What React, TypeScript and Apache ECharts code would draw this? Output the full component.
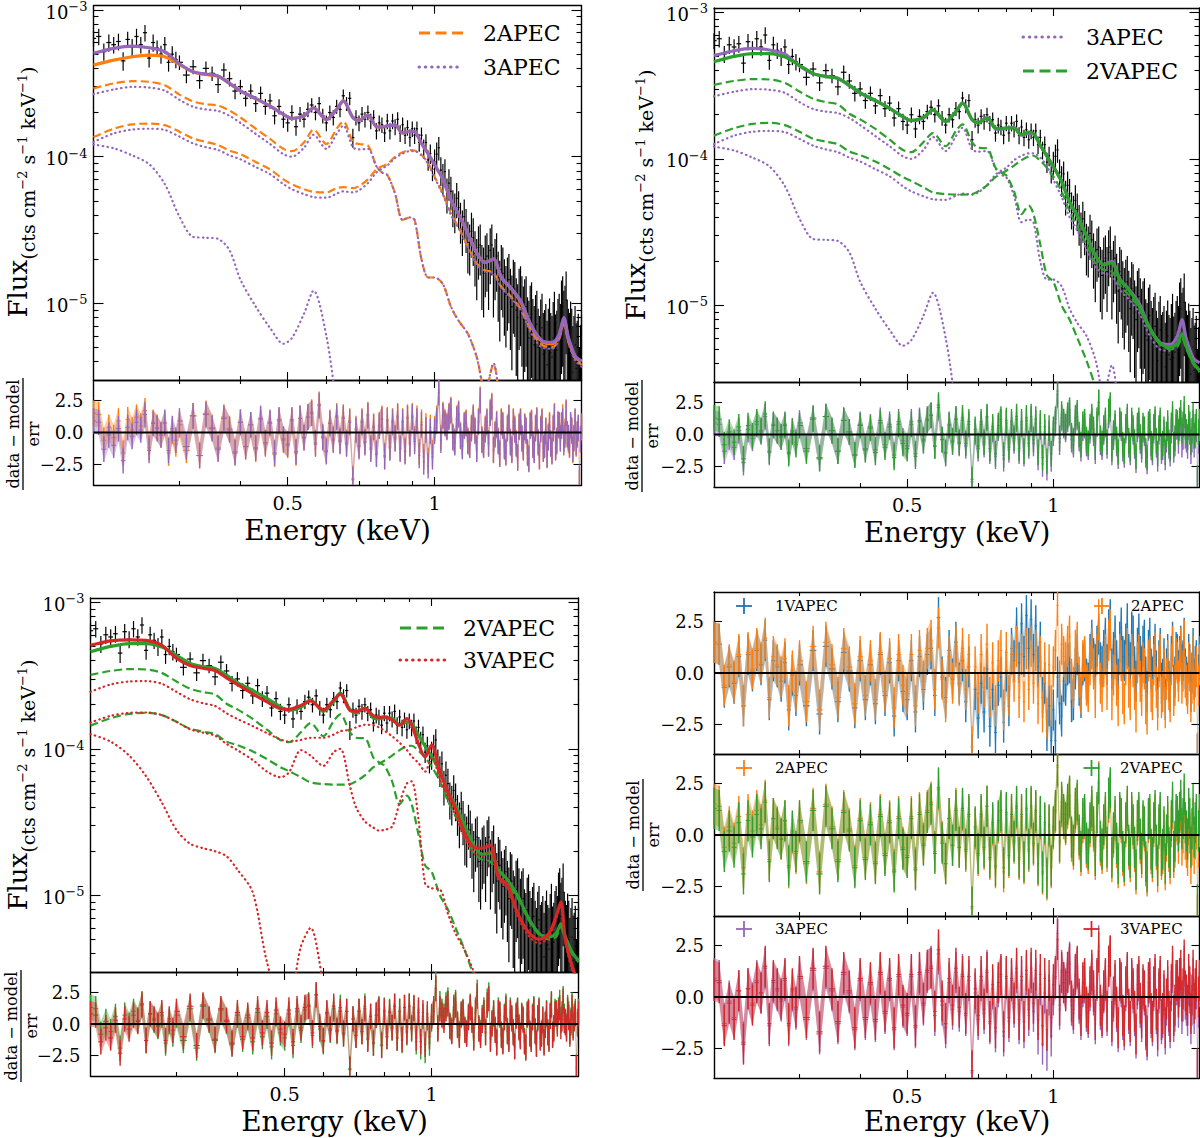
import React, { useEffect, useRef } from "react";
import * as echarts from "echarts";

const FONT = "DejaVu Serif";

// ---------------- spectrum bins (keV) ----------------
const energy = [
  0.200, 0.205, 0.210, 0.215, 0.220, 0.225, 0.230, 0.235, 0.240, 0.245, 0.250, 0.255, 0.260, 0.265, 0.270, 0.275, 0.280, 0.285, 0.290, 0.295,
  0.30, 0.31, 0.32, 0.33, 0.34, 0.35, 0.36, 0.37, 0.38, 0.39,
  0.40, 0.41, 0.42, 0.43, 0.44, 0.45, 0.46, 0.47, 0.48, 0.49,
  0.50, 0.51, 0.52, 0.53, 0.54, 0.55, 0.56, 0.57, 0.58, 0.59,
  0.60, 0.61, 0.62, 0.63, 0.64, 0.65, 0.66, 0.67, 0.68, 0.69,
  0.70, 0.71, 0.72, 0.73, 0.74, 0.75, 0.76, 0.77, 0.78, 0.79,
  0.80, 0.81, 0.82, 0.83, 0.84, 0.85, 0.86, 0.87, 0.88, 0.89,
  0.90, 0.91, 0.92, 0.93, 0.94, 0.95, 0.96, 0.97, 0.98, 0.99,
  1.00, 1.01, 1.02, 1.03, 1.04, 1.05, 1.06, 1.07, 1.08, 1.09,
  1.10, 1.11, 1.12, 1.13, 1.14, 1.15, 1.16, 1.17, 1.18, 1.19,
  1.20, 1.21, 1.22, 1.23, 1.24, 1.25, 1.26, 1.27, 1.28, 1.29,
  1.30, 1.31, 1.32, 1.33, 1.34, 1.35, 1.36, 1.37, 1.38, 1.39,
  1.40, 1.41, 1.42, 1.43, 1.44, 1.45, 1.46, 1.47, 1.48, 1.49,
  1.50, 1.51, 1.52, 1.53, 1.54, 1.55, 1.56, 1.57, 1.58, 1.59,
  1.60, 1.61, 1.62, 1.63, 1.64, 1.65, 1.66, 1.67, 1.68, 1.69,
  1.70, 1.71, 1.72, 1.73, 1.74, 1.75, 1.76, 1.77, 1.78, 1.79,
  1.80, 1.81, 1.82, 1.83, 1.84, 1.85, 1.86, 1.87, 1.88, 1.89,
  1.90, 1.91, 1.92, 1.93, 1.94, 1.95, 1.96, 1.97, 1.98, 1.99,
  2.00,
];

// flux in units of 1e-5 cts cm^-2 s^-1 keV^-1
const flux = [
  64, 66, 52, 60, 58, 61, 45, 63, 56, 66, 58, 70, 47, 60, 55, 50, 58, 44, 50, 46,
  44, 36, 41, 33, 40, 37, 31, 39, 34, 28,
  30, 25, 28, 23, 27, 22, 24, 19, 22, 18,
  17, 20, 16, 19.5, 18, 21, 22.5, 20, 23, 19,
  17, 20, 18.5, 22, 21, 26, 23, 25, 13.5, 18.5,
  17, 19.5, 18, 20, 17.5, 18.5, 15, 17, 16.5, 14.5,
  17.5, 15, 17.5, 16, 18, 14.5, 16.5, 14, 15.8, 13.5,
  15.5, 14, 15.5, 12.5, 14, 11.5, 12.5, 9.5, 10.5, 8.2,
  9.2, 10.4, 11.5, 8.1, 7.2, 7.9, 5.6, 6.6, 5.8, 4.6,
  4.3, 5.2, 4.5, 3.7, 3.2, 3.9, 3.3, 2.6, 2.5, 3.1,
  2.8, 2.2, 1.9, 2.4, 2.5, 1.7, 1.6, 2.0, 2.1, 1.7,
  2.3, 2.5, 1.6, 1.9, 2.1, 1.5, 1.25, 1.7, 1.6, 1.3,
  1.15, 1.35, 1.45, 1.1, 0.95, 1.3, 1.25, 0.9, 0.8, 1.1,
  1.15, 0.95, 0.78, 0.9, 0.95, 0.62, 0.58, 0.8, 0.85, 0.6,
  0.52, 0.66, 0.72, 0.5, 0.42, 0.6, 0.68, 0.45, 0.48, 0.55,
  0.38, 0.5, 0.62, 0.46, 0.43, 0.58, 0.72, 0.44, 0.48, 0.62,
  0.68, 0.55, 0.88, 0.95, 0.72, 0.8, 1.05, 0.6, 0.5, 0.45,
  0.58, 0.5, 0.34, 0.42, 0.52, 0.36, 0.38, 0.45, 0.2, 0.35,
  0.44,
];
const fluxErr = [
  8, 8.5, 7, 8, 7.5, 8, 6.5, 8, 7.5, 8.5, 7.5, 9, 6.5, 8, 7, 7, 7.5, 6, 6.5, 6,
  5, 4.3, 4.6, 4, 4.5, 4.2, 3.8, 4.3, 3.9, 3.4,
  3.4, 3, 3.2, 2.8, 3.1, 2.7, 2.8, 2.4, 2.6, 2.3,
  2.2, 2.4, 2.1, 2.3, 2.2, 2.4, 2.5, 2.3, 2.5, 2.2,
  2.1, 2.3, 2.2, 2.4, 2.4, 2.7, 2.5, 2.6, 2.0, 2.2,
  2.1, 2.3, 2.2, 2.3, 2.1, 2.2, 1.9, 2.1, 2.0, 1.9,
  2.1, 1.9, 2.1, 2.0, 2.1, 1.9, 2.0, 1.8, 1.9, 1.8,
  1.9, 1.8, 1.9, 1.7, 1.8, 1.6, 1.7, 1.5, 1.6, 1.4,
  2.0, 2.1, 2.1, 1.8, 1.7, 1.7, 1.5, 1.6, 1.5, 1.3,
  1.3, 1.4, 1.3, 1.15, 1.1, 1.2, 1.1, 1.0, 0.95, 1.05,
  1.0, 0.9, 0.85, 0.95, 0.95, 0.8, 0.8, 0.9, 0.9, 0.8,
  0.95, 0.95, 0.8, 0.85, 0.9, 0.75, 0.7, 0.8, 0.8, 0.7,
  0.65, 0.7, 0.72, 0.62, 0.6, 0.68, 0.66, 0.58, 0.55, 0.62,
  0.64, 0.58, 0.52, 0.56, 0.58, 0.48, 0.46, 0.52, 0.54, 0.47,
  0.44, 0.48, 0.5, 0.42, 0.4, 0.46, 0.48, 0.41, 0.42, 0.44,
  0.38, 0.42, 0.46, 0.4, 0.39, 0.44, 0.48, 0.4, 0.41, 0.45,
  0.48, 0.44, 0.55, 0.58, 0.5, 0.52, 0.6, 0.46, 0.42, 0.41,
  0.45, 0.42, 0.36, 0.4, 0.44, 0.37, 0.38, 0.4, 0.3, 0.36,
  0.4,
];

// ---------------- residuals (data - model) / err ----------------
const res1VAPEC = [
  1.5, 1.4, -0.7, 0.3, -0.5, 0.8, -1.6, 0.9, 0.1, 1.1, 0.4, 1.6, -1.3, 0.6, 0.3, -0.4, 0.5, -1.8, -0.1, -1.1,
  0.4, -1.6, 1.1, -2.0, 1.3, 0.2, -1.4, 1.0, 0.1, -1.7,
  0.6, -1.3, 0.4, -1.5, 0.9, -1.1, 0.5, -2.1, 0.6, -0.9,
  -1.3, 0.6, -1.9, 0.8, -0.8, 0.9, 1.2, -1.1, 2.7, -0.2,
  -1.2, 1.1, -0.3, 1.5, -0.5, 0.6, -1.4, 0.3, -4.0, -0.8,
  -2.2, -0.5, -1.9, 0.2, -2.6, -0.8, -2.9, -0.6, -0.2, -2.4,
  0.1, -1.6, 1.2, 0.6, 2.2, 0.5, 2.4, 0.8, 2.8, 1.2,
  2.6, 0.9, 2.3, 0.3, 1.5, -1.2, -0.5, -2.8, -1.6, -3.3,
  -1.8, -3.3, -0.2, -1.5, -2.1, -0.4, -0.6, 0.4, 0.5, -1.4,
  -1.3, 0.2, 0.9, -0.6, -1.2, 0.4, 0.6, -0.3, -0.5, 0.9,
  1.6, 0.7, 0.4, 1.3, 1.9, 0.5, 0.3, 1.1, 1.7, 0.4,
  2.1, 2.6, 0.2, 1.0, 1.8, 0.6, -0.3, 1.5, 2.2, 0.8,
  0.6, 1.4, 2.4, 0.9, 0.5, 2.0, 1.8, 0.3, -0.4, 1.2,
  1.9, 0.8, 0.3, 1.3, 1.6, -0.2, -0.9, 1.1, 1.7, 0.2,
  -0.2, 0.8, 1.4, 0.1, -1.2, 0.6, 1.2, -0.5, -0.3, 0.7,
  -1.3, 0.2, 0.9, -0.4, -0.9, 0.8, 1.5, -0.6, -0.2, 1.0,
  0.9, 0.1, 0.8, 1.3, 0.4, 0.6, 1.7, 0.2, -0.2, -0.5,
  0.9, 0.4, -0.9, 0.0, 1.2, -0.3, 0.3, 0.6, -4.0, -0.1,
  0.8,
];
const res2APEC = [
  1.5, 1.4, -0.6, 0.4, -0.4, 0.9, -1.6, 1.0, 0.2, 1.2, 0.5, 1.7, -1.2, 0.8, 0.4, -0.2, 0.7, -1.6, 0.1, -0.9,
  0.6, -1.4, 1.3, -1.8, 1.5, 0.4, -1.2, 1.2, 0.3, -1.5,
  0.8, -1.1, 0.6, -1.3, 1.0, -0.9, 0.7, -1.7, 0.9, -0.6,
  -1.0, 0.9, -1.6, 1.1, -0.4, 1.2, 1.6, -0.8, 2.2, -0.3,
  -1.4, 0.8, -0.5, 1.3, -0.6, 1.2, -0.8, 0.9, -3.6, 0.3,
  -1.0, 0.9, -0.7, 1.4, -1.2, 0.5, -1.6, 0.6, 1.1, -1.8,
  1.0, -1.1, 0.9, -0.4, 1.3, -1.2, 0.9, -1.4, 1.2, -0.8,
  1.3, -0.5, 1.1, -1.5, 0.8, -1.9, 0.5, -2.2, 0.4, -1.6,
  0.3, 1.1, 3.3, -0.4, 1.4, 0.8, 0.5, 1.3, 1.8, -0.3,
  -0.7, 1.1, 1.5, -0.2, -1.0, 0.6, 0.8, -0.6, -0.9, 0.4,
  1.2, 0.2, -1.2, 0.9, 2.6, -0.5, -0.9, 0.3, 0.9, -0.8,
  1.6, 2.1, -1.3, -0.1, 0.7, -0.6, -1.6, 0.9, 0.6, -1.0,
  -1.5, 0.4, 1.2, -0.7, -1.3, 0.9, 0.3, -0.8, -1.9, 0.5,
  0.9, -0.4, -1.1, 0.5, 0.2, -1.5, -2.0, 0.6, 0.8, -0.9,
  -1.3, 0.4, 1.0, -0.7, -1.8, 0.3, 0.9, -1.2, -0.9, 0.2,
  -1.7, -0.3, 0.6, -0.8, -1.4, 0.4, 1.3, -1.1, -0.6, 0.7,
  0.5, -0.4, 0.6, 1.2, -0.5, 0.1, 1.6, -0.2, -0.6, -1.0,
  0.5, 0.1, -1.4, -0.5, 0.8, -0.9, -0.2, 0.3, -3.9, -0.6,
  0.4,
];
const res3APEC = [
  0.9, 0.8, -1.3, -0.2, -1.0, 0.3, -2.2, 0.4, -0.3, 0.8, 0.2, 1.4, -1.4, 0.7, 0.3, -0.2, 0.8, -1.4, 0.3, -0.6,
  0.9, -1.1, 1.3, -1.8, 1.4, 0.3, -1.3, 1.1, 0.2, -1.6,
  0.8, -1.1, 0.6, -1.2, 1.1, -0.8, 0.8, -1.6, 1.0, -0.5,
  -0.9, 1.0, -1.5, 1.1, -0.4, 1.2, 1.5, -0.9, 2.1, -0.4,
  -1.5, 0.7, -0.6, 1.2, -0.7, 1.1, -0.9, 0.8, -3.7, 0.2,
  -1.1, 0.8, -0.8, 1.3, -1.3, 0.4, -1.7, 0.5, 1.0, -1.9,
  0.9, -1.2, 0.8, -0.5, 1.2, -1.3, 0.8, -1.5, 1.1, -0.9,
  1.2, -0.7, 0.9, -1.8, 0.6, -2.3, 0.2, -2.6, 0.1, -1.9,
  0.1, 0.9, 3.1, -0.6, 1.3, 0.7, 0.4, 1.2, 1.7, -0.4,
  -0.8, 1.0, 1.4, -0.3, -1.1, 0.5, 0.7, -0.7, -1.0, 0.3,
  1.1, 0.1, -1.3, 0.8, 2.5, -0.6, -1.0, 0.2, 0.8, -0.9,
  1.5, 2.0, -1.4, -0.2, 0.6, -0.7, -1.7, 0.8, 0.5, -1.1,
  -1.6, 0.3, 1.1, -0.8, -1.4, 0.8, 0.2, -0.9, -2.0, 0.4,
  0.8, -0.5, -1.2, 0.4, 0.1, -1.6, -2.1, 0.5, 0.7, -1.0,
  -1.4, 0.3, 0.9, -0.8, -1.9, 0.2, 0.8, -1.3, -1.0, 0.1,
  -1.8, -0.4, 0.5, -0.9, -1.5, 0.3, 1.2, -1.2, -0.7, 0.6,
  0.6, -0.5, 0.5, 0.9, -0.8, -0.2, 1.5, -0.1, -0.4, -0.9,
  0.6, 0.2, -1.3, -0.4, 0.9, -0.8, -0.1, 0.4, -3.6, -0.5,
  0.5,
];
const res2VAPEC = [
  1.3, 1.2, -0.8, 0.2, -0.6, 0.6, -1.9, 0.7, -0.1, 1.0, 0.3, 1.6, -1.3, 0.8, 0.3, -0.2, 0.7, -1.5, 0.2, -0.8,
  0.7, -1.3, 1.2, -1.9, 1.4, 0.3, -1.3, 1.1, 0.2, -1.6,
  0.7, -1.2, 0.5, -1.4, 0.9, -1.0, 0.6, -1.8, 0.8, -0.7,
  -1.1, 0.8, -1.7, 1.0, -0.5, 1.1, 1.5, -0.9, 2.3, -0.4,
  -1.4, 0.8, -0.5, 1.2, -0.6, 1.3, -0.7, 1.0, -3.5, 0.4,
  -0.9, 1.0, -0.6, 1.4, -1.1, 0.6, -1.5, 0.7, 1.2, -1.6,
  1.1, -1.0, 1.0, -0.3, 1.4, -1.1, 1.0, -1.3, 1.3, -0.7,
  1.4, -0.4, 1.2, -1.4, 0.9, -1.8, 0.6, -2.1, 0.5, -1.5,
  0.4, 1.2, 3.4, -0.3, 1.6, 1.0, 0.6, 1.5, 1.9, -0.1,
  -0.5, 1.3, 1.7, 0.0, -0.8, 0.8, 1.0, -0.4, -0.7, 0.6,
  1.4, 0.4, -1.0, 1.1, 2.5, -0.3, -0.7, 0.5, 1.1, -0.6,
  1.8, 2.3, -1.1, 0.1, 0.9, -0.4, -1.4, 1.1, 0.8, -0.8,
  -1.3, 0.6, 1.4, -0.5, -1.1, 1.1, 0.5, -0.6, -1.7, 0.7,
  1.1, -0.2, -0.9, 0.7, 0.4, -1.3, -1.8, 0.8, 1.0, -0.7,
  -1.1, 0.6, 1.2, -0.5, -1.5, 0.5, 1.1, -1.0, -0.7, 0.4,
  -1.4, 0.0, 0.9, -0.6, -1.1, 0.7, 1.6, -0.8, -0.3, 1.0,
  0.9, 0.2, 1.1, 1.7, 0.3, 0.8, 2.0, 0.6, 0.2, -0.2,
  1.3, 0.8, -0.6, 0.3, 1.5, -0.1, 0.6, 1.0, -3.4, 0.2,
  1.0,
];
const res3VAPEC = [
  0.8, 0.7, -1.4, -0.3, -1.1, 0.3, -2.3, 0.4, -0.4, 0.7, 0.2, 1.5, -1.3, 0.8, 0.4, -0.1, 0.9, -1.3, 0.4, -0.5,
  1.0, -1.0, 1.4, -1.7, 1.5, 0.4, -1.2, 1.2, 0.3, -1.5,
  0.9, -1.0, 0.7, -1.1, 1.2, -0.7, 0.9, -1.5, 1.1, -0.4,
  -0.8, 1.1, -1.4, 1.2, -0.3, 1.3, 1.4, -0.7, 2.3, -0.2,
  -1.3, 0.9, -0.4, 1.4, -0.5, 1.0, -0.8, 1.0, -3.6, 0.4,
  -0.9, 1.0, -0.6, 1.2, -1.2, 0.6, -1.5, 0.7, 1.1, -1.7,
  1.0, -1.0, 0.9, -0.3, 1.4, -1.1, 1.0, -1.2, 1.3, -0.6,
  1.4, -0.3, 1.3, -1.1, 1.1, -1.4, 0.9, -1.6, 0.8, -1.0,
  0.6, 1.0, 2.8, -0.4, 1.2, 0.7, 0.3, 1.2, 1.6, -0.2,
  -0.6, 1.1, 1.5, -0.1, -0.9, 0.7, 0.9, -0.5, -0.8, 0.5,
  1.3, 0.3, -1.1, 0.9, 2.2, -0.4, -0.9, 0.3, 0.9, -0.7,
  1.5, 2.0, -1.2, 0.0, 0.8, -0.5, -1.5, 0.9, 0.7, -0.9,
  -1.4, 0.5, 1.2, -0.6, -1.2, 0.9, 0.4, -0.7, -1.8, 0.6,
  1.0, -0.3, -1.0, 0.6, 0.3, -1.4, -1.9, 0.7, 0.9, -0.8,
  -1.2, 0.5, 1.1, -0.6, -1.6, 0.4, 1.0, -1.1, -0.8, 0.3,
  -1.5, -0.1, 0.8, -0.7, -1.2, 0.6, 1.5, -0.9, -0.4, 0.8,
  0.8, 0.0, 0.9, 1.3, -0.2, 0.4, 1.8, 0.3, 0.1, -0.4,
  1.1, 0.5, -0.8, 0.1, 1.3, -0.3, 0.4, 0.8, -3.5, 0.0,
  0.8,
];

// ---------------- model curves (units of 1e-5) ----------------
const modelEnergy = [
  0.20, 0.22, 0.24, 0.26, 0.28, 0.30, 0.32, 0.34, 0.36, 0.38, 0.40, 0.43, 0.46, 0.49,
  0.51, 0.54, 0.565, 0.60, 0.63, 0.65, 0.68, 0.70, 0.73, 0.76, 0.78, 0.80,
  0.83, 0.86, 0.89, 0.91, 0.94, 0.97, 1.00, 1.04, 1.08, 1.12, 1.17, 1.22, 1.27, 1.32, 1.37,
  1.43, 1.50, 1.58, 1.66, 1.74, 1.80, 1.84, 1.88, 1.94, 2.00,
];
const apec2Total = [42.1, 45.5, 48.0, 49.2, 48.0, 42.5, 37.8, 36.3, 35.3, 31.6, 28.1, 24.9, 22.1, 19.4, 18.2, 19.0, 21.5, 17.9, 21.0, 24.0, 18.5, 17.7, 19.2, 16.0, 15.9, 16.2, 16.4, 14.5, 14.9, 14.8, 12.3, 10.5, 8.8, 7.0, 5.05, 4.05, 3.0, 2.2, 1.9, 2.0, 1.5, 1.28, 1.03, 0.69, 0.55, 0.53, 0.6, 0.78, 0.57, 0.43, 0.4];
const apec2Cool = [29.2, 31.6, 32.7, 32.4, 30.7, 26.5, 23.8, 22.8, 22.3, 20.6, 18.5, 15.5, 13.2, 11.3, 10.9, 12.5, 15.3, 12.2, 15.5, 17.4, 12.6, 12.2, 11.9, 8.6, 7.8, 7.5, 5.6, 3.7, 3.85, 3.7, 2.0, 1.5, 1.5, 1.35, 0.95, 0.76, 0.62, 0.43, 0.25, 0.385, 0.2, 0.15, 0.11, 0.08, null, null, null, null, null, null, null];
const apec2Hot = [13.6, 15.5, 16.6, 16.8, 16.4, 14.8, 13.3, 12.6, 12.0, 11.0, 10.4, 9.2, 8.2, 7.0, 6.5, 6.0, 5.75, 5.7, 6.1, 6.2, 6.1, 6.3, 7.0, 8.2, 8.6, 8.9, 10.0, 10.7, 11.1, 11.0, 10.3, 9.0, 7.3, 5.6, 4.1, 3.3, 2.45, 1.87, 1.68, 1.62, 1.3, 1.12, 0.92, 0.64, 0.52, 0.5, 0.57, 0.74, 0.55, 0.42, 0.38];
const apec3Total = [50.6, 54.7, 56.7, 55.3, 51.9, 43.0, 38.0, 36.5, 35.5, 31.6, 28.1, 24.9, 22.1, 19.4, 18.2, 19.0, 21.5, 17.9, 21.0, 24.0, 18.5, 17.7, 19.2, 16.0, 15.9, 16.2, 16.4, 14.5, 14.9, 14.8, 12.3, 10.5, 8.8, 7.0, 5.05, 4.05, 3.0, 2.2, 1.9, 2.0, 1.51, 1.29, 1.04, 0.7, 0.556, 0.541, 0.617, 0.8, 0.586, 0.439, 0.405];
const apec3Warm = [26.7, 28.7, 29.9, 29.6, 28.2, 24.4, 21.9, 21.0, 20.5, 19.0, 17.0, 14.3, 12.2, 10.4, 10.0, 11.5, 14.1, 11.3, 14.3, 16.3, 11.6, 11.2, 11.3, 8.6, 7.8, 7.5, 5.6, 3.7, 3.85, 3.7, 2.0, 1.5, 1.5, 1.35, 0.95, 0.76, 0.62, 0.43, 0.25, 0.39, 0.2, 0.15, 0.11, 0.08, null, null, null, null, null, null, null];
const apec3Hot = [12.6, 14.4, 15.3, 15.5, 15.2, 13.7, 12.3, 11.6, 11.1, 10.2, 9.6, 8.5, 7.6, 6.5, 6.0, 5.55, 5.3, 5.25, 5.6, 5.8, 5.7, 5.9, 6.6, 7.8, 8.3, 8.7, 9.8, 10.5, 10.9, 10.9, 10.2, 8.9, 7.2, 5.5, 4.0, 3.25, 2.4, 1.83, 1.65, 1.6, 1.28, 1.1, 0.9, 0.62, 0.5, 0.49, 0.57, 0.76, 0.54, 0.41, 0.37];
const apec3Cool = [12.1, 11.4, 10.2, 8.9, 6.5, 3.9, 2.84, 2.8, 2.75, 2.3, 1.45, 0.95, 0.68, 0.53, 0.58, 0.85, 1.22, 0.6, 0.2, 0.1, 0.05, null, null, null, null, null, null, null, null, null, null, null, null, null, null, null, null, null, null, null, null, null, null, null, null, null, null, null, null, null, null];
const vapec2Total = [46, 50, 52.3, 52.3, 49.5, 43.5, 38.3, 36.4, 35.4, 31.8, 28.3, 25.0, 22.1, 19.4, 18.3, 19.2, 21.6, 18.0, 21.0, 24.0, 18.6, 17.6, 19.0, 16.2, 16.0, 16.3, 16.2, 14.6, 15.2, 14.9, 12.4, 10.4, 8.9, 7.0, 5.1, 4.1, 3.0, 2.2, 1.9, 1.95, 1.5, 1.28, 1.0, 0.7, 0.55, 0.52, 0.55, 0.64, 0.52, 0.41, 0.36];
const vapec2Cool = [32.0, 34.0, 35.0, 34.8, 33.0, 28.8, 25.7, 24.4, 23.5, 20.3, 18.6, 16.0, 13.5, 11.5, 11.1, 13.0, 15.0, 12.2, 15.5, 17.2, 13.0, 11.9, 11.8, 8.7, 8.1, 7.7, 6.0, 4.2, 4.8, 4.2, 2.6, 1.6, 1.45, 1.0, 0.8, 0.6, 0.42, 0.28, 0.18, 0.2, 0.12, 0.08, null, null, null, null, null, null, null, null, null];
const vapec2Hot = [14.4, 16.2, 17.3, 17.6, 17.0, 15.3, 13.7, 13.1, 12.6, 11.2, 10.6, 9.6, 8.5, 7.5, 7.05, 6.4, 5.9, 5.75, 5.7, 5.7, 5.75, 6.0, 6.6, 7.5, 7.9, 8.3, 9.0, 9.8, 10.4, 10.5, 9.7, 8.7, 7.6, 6.0, 4.4, 3.45, 2.6, 1.95, 1.75, 1.7, 1.38, 1.18, 0.96, 0.68, 0.54, 0.5, 0.52, 0.6, 0.5, 0.4, 0.35];
const vapec3Total = [50.8, 54.5, 55.5, 55.0, 50.8, 41.5, 37.0, 35.5, 34.2, 30.5, 27.5, 23.7, 20.9, 18.8, 18.6, 19.8, 21.2, 18.4, 21.5, 23.6, 18.3, 18.0, 18.8, 16.8, 16.4, 16.5, 15.8, 14.5, 16.1, 14.6, 10.8, 8.8, 10.6, 7.0, 5.1, 3.9, 2.65, 2.13, 2.1, 2.2, 1.34, 1.18, 0.76, 0.56, 0.5, 0.55, 0.72, 0.9, 0.5, 0.33, 0.25];
const vapec3Hot = [24.5, 27.5, 28.8, 29.0, 27.8, 24.5, 21.8, 20.5, 19.6, 17.5, 16.0, 14.3, 12.8, 11.6, 11.2, 11.5, 11.9, 11.9, 12.5, 13.2, 13.5, 14.0, 14.6, 14.5, 14.0, 13.3, 12.2, 11.0, 9.8, 8.9, 8.0, 7.0, 8.8, 6.2, 4.6, 3.5, 2.45, 1.95, 1.85, 2.0, 1.3, 1.12, 0.72, 0.53, 0.47, 0.52, 0.69, 0.87, 0.48, 0.31, 0.24];
const vapec3Warm = [15.1, 16.8, 17.6, 17.7, 17.0, 15.3, 13.6, 12.9, 12.3, 10.8, 9.8, 8.4, 7.0, 6.4, 6.9, 9.8, 9.0, 7.65, 9.5, 10.0, 5.6, 4.0, 3.2, 2.9, 2.77, 2.8, 2.95, 4.3, 5.8, 6.0, 3.3, 1.2, 1.12, 1.1, 0.75, 0.55, 0.42, 0.3, 0.2, 0.15, 0.1, null, null, null, null, null, null, null, null, null, null];
const vapec3Cool = [12.6, 11.2, 9.0, 6.5, 4.3, 2.8, 2.25, 2.1, 2.0, 1.85, 1.5, 1.05, 0.35, 0.2, 0.2, 0.45, 0.6, 0.25, 0.12, null, null, null, null, null, null, null, null, null, null, null, null, null, null, null, null, null, null, null, null, null, null, null, null, null, null, null, null, null, null, null, null];

// ---------------- axes ----------------
const xMajorTicks = [0.5, 1];
const xMinorTicks = [0.3, 0.4, 0.6, 0.7, 0.8, 0.9];
const fluxMajorTicks = [1e-5, 1e-4, 1e-3];
const fluxMinorMantissas = [2, 3, 4, 5, 6, 7, 8, 9];
const fluxDecades = [1e-6, 1e-5, 1e-4, 1e-3];
const resTicks = [-2.5, 0, 2.5];

const X_MIN = 0.2, X_MAX = 2.0, Y_MIN = 3e-6, Y_MAX = 1.07e-3, UNIT = 1e-5;
const R_SMALL = 4.1, R_BR = 3.95;

const C_BLUE = "#1f77b4", C_ORANGE = "#ff7f0e", C_GREEN = "#2ca02c", C_RED = "#d62728", C_PURPLE = "#9467bd";

const binLo = energy.map((e, i) => (i > 0 ? (energy[i - 1] + e) / 2 : e - (energy[1] - energy[0]) / 2));
const binHi = energy.map((e, i) => (i < energy.length - 1 ? (energy[i + 1] + e) / 2 : e + (e - energy[i - 1]) / 2));

function rgba(hex: string, a: number) {
  const n = parseInt(hex.slice(1), 16);
  return `rgba(${(n >> 16) & 255},${(n >> 8) & 255},${n & 255},${a})`;
}

function buildOption() {
  const grid: any[] = [];
  const xAxis: any[] = [];
  const yAxis: any[] = [];
  const series: any[] = [];
  const tickStyle = { color: "#000", width: 1.1 };
  const spine = { show: true, onZero: false, lineStyle: { color: "#000", width: 1.4 } };
  const noLine = { show: false, onZero: false };
  const off = { show: false };
  const lgXMin = Math.log10(X_MIN), lgXMax = Math.log10(X_MAX);
  const xMaj = xMajorTicks.map(Math.log10);
  const xMin = xMinorTicks.map(Math.log10);

  function addGrid(box: any, kind: string, range: number, xLabels: boolean) {
    const gi = grid.length;
    grid.push({ left: box.left, top: box.top, width: box.width, height: box.height, containLabel: false, show: false });
    const xi = xAxis.length;
    xAxis.push({ type: "log", logBase: 10, gridIndex: gi, position: "bottom", min: X_MIN, max: X_MAX, axisLine: noLine, axisTick: off, axisLabel: off, splitLine: off });
    const yi = yAxis.length;
    if (kind === "flux") {
      yAxis.push({ type: "log", logBase: 10, gridIndex: gi, position: "left", min: Y_MIN, max: Y_MAX, axisLine: noLine, axisTick: off, axisLabel: off, splitLine: off });
    } else {
      yAxis.push({ type: "value", gridIndex: gi, position: "left", min: -range, max: range, axisLine: noLine, axisTick: off, axisLabel: off, splitLine: off });
    }
    ["bottom", "top"].forEach((pos) => {
      xAxis.push({
        type: "value", gridIndex: gi, position: pos, min: lgXMin, max: lgXMax, axisLine: spine,
        axisTick: { show: true, inside: true, length: 8, lineStyle: tickStyle, customValues: xMaj },
        axisLabel: {
          show: pos === "bottom" && xLabels, customValues: xMaj,
          formatter: (v: number) => String(Number(Math.pow(10, v).toPrecision(3))),
          color: "#000", fontFamily: FONT, fontSize: 19, margin: 8,
        },
        splitLine: off,
      });
      xAxis.push({
        type: "value", gridIndex: gi, position: pos, min: lgXMin, max: lgXMax, axisLine: noLine,
        axisTick: { show: true, inside: true, length: 4, lineStyle: tickStyle, customValues: xMin },
        axisLabel: off, splitLine: off,
      });
    });
    if (kind === "flux") {
      const lo = Math.log10(Y_MIN), hi = Math.log10(Y_MAX);
      const maj = fluxMajorTicks.map(Math.log10);
      const minr: number[] = [];
      fluxDecades.forEach((d) => fluxMinorMantissas.forEach((m) => {
        const v = Math.log10(m * d);
        if (v > lo && v < hi) minr.push(v);
      }));
      ["left", "right"].forEach((pos) => {
        yAxis.push({
          type: "value", gridIndex: gi, position: pos, min: lo, max: hi, axisLine: spine,
          axisTick: { show: true, inside: true, length: 10, lineStyle: tickStyle, customValues: maj },
          axisLabel: {
            show: pos === "left", customValues: maj, margin: 6, color: "#000",
            formatter: (v: number) => `{b|10}{s|\u2212${Math.round(-v)}}`,
            rich: {
              b: { fontSize: 18, fontFamily: FONT, color: "#000", lineHeight: 22, verticalAlign: "bottom" },
              s: { fontSize: 13, fontFamily: FONT, color: "#000", lineHeight: 22, verticalAlign: "bottom", padding: [0, 0, 8, 0] },
            },
          },
          splitLine: off,
        });
        yAxis.push({
          type: "value", gridIndex: gi, position: pos, min: lo, max: hi, axisLine: noLine,
          axisTick: { show: true, inside: true, length: 5, lineStyle: tickStyle, customValues: minr },
          axisLabel: off, splitLine: off,
        });
      });
    } else {
      ["left", "right"].forEach((pos) => {
        yAxis.push({
          type: "value", gridIndex: gi, position: pos, min: -range, max: range, axisLine: spine,
          axisTick: { show: true, inside: true, length: 8, lineStyle: tickStyle, customValues: resTicks },
          axisLabel: {
            show: pos === "left", customValues: resTicks, margin: 10, color: "#000", fontFamily: FONT, fontSize: 18,
            formatter: (v: number) => (v < 0 ? "\u2212" : "") + Math.abs(v).toFixed(1),
          },
          splitLine: off,
        });
      });
    }
    return { xi, yi };
  }

  function fluxData(ax: any) {
    return {
      type: "custom", xAxisIndex: ax.xi, yAxisIndex: ax.yi, z: 2, silent: true,
      data: energy.map((e, i) => [e, flux[i] * UNIT, fluxErr[i] * UNIT, binLo[i], binHi[i]]),
      encode: { x: 0, y: 1 },
      renderItem: (params: any, api: any) => {
        const cs = params.coordSys;
        const top = cs.y, bot = cs.y + cs.height, left = cs.x, right = cs.x + cs.width;
        const cl = (y: number) => Math.min(bot, Math.max(top, y));
        const e = api.value(0), f = api.value(1), er = api.value(2), lo = api.value(3), hi = api.value(4);
        const pHi = api.coord([e, f + er]);
        const pLo = api.coord([e, Math.max(f - er, Y_MIN * 0.05)]);
        const pL = api.coord([lo, f]);
        const pR = api.coord([hi, f]);
        const children: any[] = [];
        const y1 = cl(pHi[1]), y2 = cl(pLo[1]);
        if (y2 > y1) children.push({ type: "line", shape: { x1: pHi[0], y1, x2: pHi[0], y2 }, style: { stroke: "#000", lineWidth: 1.2 } });
        if (pL[1] >= top && pL[1] <= bot) {
          children.push({ type: "line", shape: { x1: Math.max(left, pL[0]), y1: pL[1], x2: Math.min(right, pR[0]), y2: pR[1] }, style: { stroke: "#000", lineWidth: 1.2 } });
        }
        return { type: "group", children };
      },
    };
  }

  function resSeries(ax: any, res: number[], color: string) {
    return {
      type: "custom", xAxisIndex: ax.xi, yAxisIndex: ax.yi, z: 2, silent: true,
      data: energy.map((e, i) => [e, res[i], binLo[i], binHi[i]]),
      encode: { x: 0, y: 1 },
      renderItem: (params: any, api: any) => {
        const cs = params.coordSys;
        const top = cs.y, bot = cs.y + cs.height, left = cs.x, right = cs.x + cs.width;
        const cl = (y: number) => Math.min(bot, Math.max(top, y));
        const children: any[] = [];
        if (params.dataIndex === 0) {
          const up: number[][] = [], dn: number[][] = [];
          for (let j = 0; j < energy.length; j++) {
            const a = api.coord([energy[j], res[j] + 1]);
            const b = api.coord([energy[j], res[j] - 1]);
            up.push([Math.max(left, Math.min(right, a[0])), cl(a[1])]);
            dn.push([Math.max(left, Math.min(right, b[0])), cl(b[1])]);
          }
          children.push({ type: "polygon", shape: { points: up.concat(dn.reverse()) }, style: { fill: rgba(color, 0.38), stroke: "none" } });
        }
        const e = api.value(0), r = api.value(1), lo = api.value(2), hi = api.value(3);
        const pa = api.coord([e, r + 1]), pb = api.coord([e, r - 1]);
        const y1 = cl(pa[1]), y2 = cl(pb[1]);
        if (y2 > y1) children.push({ type: "line", shape: { x1: pa[0], y1, x2: pa[0], y2 }, style: { stroke: color, lineWidth: 1.4 } });
        const pl = api.coord([lo, r]), pr = api.coord([hi, r]);
        if (pl[1] >= top && pl[1] <= bot) {
          children.push({ type: "line", shape: { x1: Math.max(left, pl[0]), y1: pl[1], x2: Math.min(right, pr[0]), y2: pr[1] }, style: { stroke: color, lineWidth: 1 } });
        }
        return { type: "group", children };
      },
    };
  }

  function zeroLine(ax: any) {
    return {
      type: "line", xAxisIndex: ax.xi, yAxisIndex: ax.yi, z: 6, silent: true, showSymbol: false, symbol: "none",
      data: [[energy[0], 0], [energy[energy.length - 1], 0]],
      lineStyle: { color: "#000", width: 2 },
    };
  }

  function model(ax: any, vals: (number | null)[], color: string, kind: string) {
    const pts: number[][] = [];
    modelEnergy.forEach((e, i) => { const v = vals[i]; if (v != null) pts.push([e, v * UNIT]); });
    const dash = kind === "dashed" ? [8, 4] : kind === "dotted" ? [0.5, 4.2] : "solid";
    return {
      type: "line", xAxisIndex: ax.xi, yAxisIndex: ax.yi, z: 3, silent: true, showSymbol: false, symbol: "none",
      smooth: 0.3, clip: true, data: pts,
      lineStyle: { color, width: kind === "solid" ? 3.2 : 2.2, type: dash, cap: kind === "dotted" ? "round" : "butt" },
    };
  }

  // ---- top-left ----
  const tl = addGrid({ left: 93.5, top: 5, width: 488, height: 375 }, "flux", 0, false);
  series.push(fluxData(tl));
  series.push(model(tl, apec2Cool, C_ORANGE, "dashed"), model(tl, apec2Hot, C_ORANGE, "dashed"), model(tl, apec2Total, C_ORANGE, "solid"));
  series.push(model(tl, apec3Warm, C_PURPLE, "dotted"), model(tl, apec3Hot, C_PURPLE, "dotted"), model(tl, apec3Cool, C_PURPLE, "dotted"), model(tl, apec3Total, C_PURPLE, "solid"));
  const tlr = addGrid({ left: 93.5, top: 380, width: 488, height: 105 }, "res", R_SMALL, true);
  series.push(resSeries(tlr, res2APEC, C_ORANGE), resSeries(tlr, res3APEC, C_PURPLE), zeroLine(tlr));

  // ---- top-right ----
  const tr = addGrid({ left: 714, top: 8, width: 485.5, height: 374 }, "flux", 0, false);
  series.push(fluxData(tr));
  series.push(model(tr, apec3Warm, C_PURPLE, "dotted"), model(tr, apec3Hot, C_PURPLE, "dotted"), model(tr, apec3Cool, C_PURPLE, "dotted"), model(tr, apec3Total, C_PURPLE, "solid"));
  series.push(model(tr, vapec2Cool, C_GREEN, "dashed"), model(tr, vapec2Hot, C_GREEN, "dashed"), model(tr, vapec2Total, C_GREEN, "solid"));
  const trr = addGrid({ left: 714, top: 382, width: 485.5, height: 105 }, "res", R_SMALL, true);
  series.push(resSeries(trr, res3APEC, C_PURPLE), resSeries(trr, res2VAPEC, C_GREEN), zeroLine(trr));

  // ---- bottom-left ----
  const bl = addGrid({ left: 90.5, top: 598, width: 488, height: 374 }, "flux", 0, false);
  series.push(fluxData(bl));
  series.push(model(bl, vapec2Cool, C_GREEN, "dashed"), model(bl, vapec2Hot, C_GREEN, "dashed"), model(bl, vapec2Total, C_GREEN, "solid"));
  series.push(model(bl, vapec3Hot, C_RED, "dotted"), model(bl, vapec3Warm, C_RED, "dotted"), model(bl, vapec3Cool, C_RED, "dotted"), model(bl, vapec3Total, C_RED, "solid"));
  const blr = addGrid({ left: 90.5, top: 972, width: 488, height: 104 }, "res", R_SMALL, true);
  series.push(resSeries(blr, res2VAPEC, C_GREEN), resSeries(blr, res3VAPEC, C_RED), zeroLine(blr));

  // ---- bottom-right: three residual panels ----
  const b1 = addGrid({ left: 714, top: 592, width: 485.5, height: 162 }, "res", R_BR, false);
  series.push(resSeries(b1, res1VAPEC, C_BLUE), resSeries(b1, res2APEC, C_ORANGE), zeroLine(b1));
  const b2 = addGrid({ left: 714, top: 754, width: 485.5, height: 162 }, "res", R_BR, false);
  series.push(resSeries(b2, res2APEC, C_ORANGE), resSeries(b2, res2VAPEC, C_GREEN), zeroLine(b2));
  const b3 = addGrid({ left: 714, top: 916, width: 485.5, height: 162 }, "res", R_BR, true);
  series.push(resSeries(b3, res3APEC, C_PURPLE), resSeries(b3, res3VAPEC, C_RED), zeroLine(b3));

  // ---- decorations ----
  const g: any[] = [];
  const txt = (x: number, y: number, text: string, size: number, align = "center") => ({
    type: "text", x, y, silent: true, z: 10,
    style: { text, fill: "#000", fontSize: size, fontFamily: FONT, align, verticalAlign: "middle", textAlign: align, textVerticalAlign: "middle" },
  });
  [[337.5, 530], [957, 532], [334.5, 1121], [957, 1121]].forEach(([x, y]) => g.push(txt(x, y, "Energy (keV)", 28)));

  const fluxRich = {
    f: { fontSize: 26, fontFamily: FONT, fill: "#000", color: "#000", lineHeight: 30, verticalAlign: "bottom", padding: [0, 0, 6, 0] },
    s: { fontSize: 19, fontFamily: FONT, fill: "#000", color: "#000", lineHeight: 30, verticalAlign: "bottom" },
    p: { fontSize: 13, fontFamily: FONT, fill: "#000", color: "#000", lineHeight: 30, verticalAlign: "bottom", padding: [0, 0, 8, 0] },
  };
  [[22, 192], [640, 195], [22, 785]].forEach(([x, y]) => g.push({
    type: "text", x, y, rotation: Math.PI / 2, silent: true, z: 10,
    style: {
      text: "{f|Flux}{s|(cts cm}{p|\u22122}{s| s}{p|\u22121}{s| keV}{p|\u22121}{s|)}", rich: fluxRich,
      fill: "#000", fontFamily: FONT, fontSize: 19, align: "center", verticalAlign: "middle", textAlign: "center", textVerticalAlign: "middle",
    },
  }));

  [[23, 434], [642, 436], [21, 1026], [643, 835]].forEach(([x, y]) => g.push({
    type: "group", x, y, rotation: Math.PI / 2, silent: true, z: 10,
    children: [
      { type: "text", x: 0, y: -2, style: { text: "data \u2212 model", fill: "#000", fontSize: 16, fontFamily: FONT, align: "center", verticalAlign: "bottom", textAlign: "center", textVerticalAlign: "bottom" } },
      { type: "line", shape: { x1: -56, y1: 0, x2: 56, y2: 0 }, style: { stroke: "#000", lineWidth: 1.3 } },
      { type: "text", x: 0, y: 2, style: { text: "err", fill: "#000", fontSize: 16, fontFamily: FONT, align: "center", verticalAlign: "top", textAlign: "center", textVerticalAlign: "top" } },
    ],
  }));

  const legendLine = (x1: number, x2: number, y: number, color: string, kind: string, label: string, tx: number) => {
    g.push({
      type: "line", silent: true, z: 10, shape: { x1, y1: y, x2, y2: y },
      style: { stroke: color, lineWidth: 3, lineDash: kind === "dashed" ? [11, 5.5] : [0.5, 5.8], lineCap: kind === "dotted" ? "round" : "butt" },
    });
    g.push(txt(tx, y, label, 22, "left"));
  };
  legendLine(419, 463, 33, C_ORANGE, "dashed", "2APEC", 483);
  legendLine(419, 463, 67, C_PURPLE, "dotted", "3APEC", 483);
  legendLine(1023, 1067, 37, C_PURPLE, "dotted", "3APEC", 1086);
  legendLine(1023, 1067, 71, C_GREEN, "dashed", "2VAPEC", 1086);
  legendLine(400, 446, 628, C_GREEN, "dashed", "2VAPEC", 463);
  legendLine(400, 446, 660, C_RED, "dotted", "3VAPEC", 463);

  const cross = (cx: number, cy: number, color: string, label: string, tx: number) => {
    g.push({ type: "line", silent: true, z: 10, shape: { x1: cx - 8, y1: cy, x2: cx + 8, y2: cy }, style: { stroke: color, lineWidth: 1.8 } });
    g.push({ type: "line", silent: true, z: 10, shape: { x1: cx, y1: cy - 8, x2: cx, y2: cy + 8 }, style: { stroke: color, lineWidth: 1.8 } });
    g.push(txt(tx, cy, label, 15, "left"));
  };
  cross(744, 606, C_BLUE, "1VAPEC", 775);
  cross(1102, 606, C_ORANGE, "2APEC", 1131);
  cross(744, 768, C_ORANGE, "2APEC", 775);
  cross(1091.5, 768, C_GREEN, "2VAPEC", 1120);
  cross(744, 929, C_PURPLE, "3APEC", 775);
  cross(1091.5, 929, C_RED, "3VAPEC", 1120);

  return {
    animation: false,
    backgroundColor: "#ffffff",
    grid, xAxis, yAxis, series,
    graphic: { elements: g },
  };
}

export default function App() {
  const ref = useRef<HTMLDivElement>(null);
  useEffect(() => {
    document.body.style.margin = "0";
    const chart = echarts.init(ref.current as HTMLDivElement, undefined, { renderer: "svg" });
    chart.setOption(buildOption() as any);
    return () => chart.dispose();
  }, []);
  return <div ref={ref} style={{ width: 1200, height: 1138 }} />;
}
